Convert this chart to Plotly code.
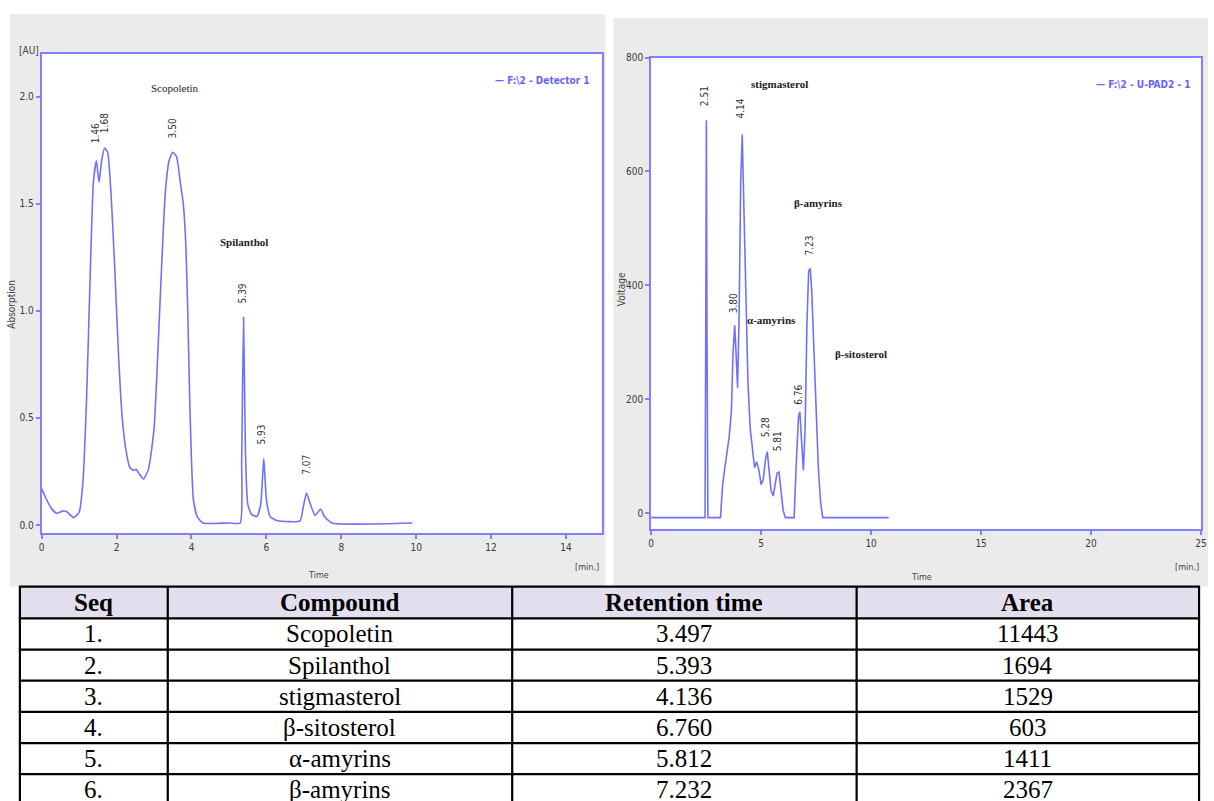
import plotly.graph_objects as go

W, H = 1214, 801

# ---------------- data ----------------
# Left chromatogram (Detector 1), time [min] vs absorbance [AU]
left_time = [0.0, 0.1, 0.25, 0.4, 0.55, 0.65, 0.85, 1.0, 1.1, 1.2, 1.3, 1.38, 1.46, 1.53, 1.6, 1.68,
             1.76, 1.85, 1.95, 2.05, 2.15, 2.25, 2.35, 2.45, 2.52, 2.6, 2.72, 2.85, 3.0, 3.1, 3.2,
             3.3, 3.4, 3.5, 3.6, 3.7, 3.78, 3.85, 3.9, 3.95, 4.0, 4.05, 4.15, 4.3, 5.0, 5.3, 5.34,
             5.39, 5.44, 5.5, 5.6, 5.75, 5.85, 5.93, 6.0, 6.1, 6.3, 6.9, 6.98, 7.07, 7.15, 7.3,
             7.45, 7.55, 7.75, 9.9]
left_au = [0.17, 0.13, 0.08, 0.055, 0.065, 0.065, 0.035, 0.06, 0.2, 0.6, 1.2, 1.6, 1.70, 1.60, 1.70, 1.76,
           1.74, 1.55, 1.2, 0.8, 0.5, 0.35, 0.27, 0.255, 0.26, 0.24, 0.215, 0.26, 0.45, 0.8, 1.2,
           1.55, 1.70, 1.74, 1.72, 1.60, 1.5, 1.3, 1.0, 0.6, 0.3, 0.12, 0.04, 0.01, 0.01, 0.01, 0.3,
           0.97, 0.35, 0.1, 0.05, 0.04, 0.1, 0.31, 0.12, 0.04, 0.02, 0.02, 0.08, 0.15, 0.11, 0.045,
           0.075, 0.04, 0.01, 0.01]

# Right chromatogram (U-PAD2), time [min] vs voltage [mV]
right_time = [0.0, 2.45, 2.48, 2.51, 2.54, 2.58, 3.15, 3.25, 3.35, 3.45, 3.55, 3.65, 3.72, 3.80, 3.87,
              3.93, 4.0, 4.07, 4.14, 4.2, 4.3, 4.4, 4.5, 4.6, 4.7, 4.8, 4.9, 5.0, 5.1, 5.2, 5.28,
              5.35, 5.45, 5.55, 5.65, 5.72, 5.81, 5.9, 6.0, 6.1, 6.5, 6.6, 6.7, 6.76, 6.83, 6.92,
              7.0, 7.08, 7.16, 7.23, 7.3, 7.4, 7.5, 7.6, 7.7, 7.8, 10.8]
right_mv = [-8, -8, 300, 690, 300, -8, -8, 50, 80, 110, 135, 180, 280, 330, 280,
            220, 350, 580, 665, 560, 380, 230, 150, 110, 80, 90, 75, 50, 60, 95, 108,
            80, 40, 30, 55, 70, 72, 40, 5, -8, -8, 90, 170, 178, 140, 75,
            150, 330, 425, 430, 390, 280, 170, 80, 20, -8, -8]

left_ticks_x = [0, 2, 4, 6, 8, 10, 12, 14]
left_ticks_y = [0.0, 0.5, 1.0, 1.5, 2.0]
left_ticktext_y = ["0.0", "0.5", "1.0", "1.5", "2.0"]
right_ticks_x = [0, 5, 10, 15, 20, 25]
right_ticks_y = [0, 200, 400, 600, 800]

# peak labels: (text, x, y)
left_peak_labels = [("1.46", 1.46, 1.83), ("1.68", 1.66, 1.875), ("3.50", 3.5, 1.85),
                    ("5.39", 5.37, 1.08), ("5.93", 5.87, 0.42), ("7.07", 7.05, 0.28)]
left_names = [("Scopoletin", 3.55, 2.04, False), ("Spilanthol", 5.4, 1.32, True)]
right_peak_labels = [("2.51", 2.42, 733), ("4.14", 4.05, 711), ("3.80", 3.75, 368),
                     ("7.23", 7.2, 469), ("6.76", 6.7, 207), ("5.28", 5.2, 150), ("5.81", 5.74, 127)]
right_names = [("stigmasterol", 5.83, 754), ("β-amyrins", 7.63, 545),
               ("α-amyrins", 5.47, 340), ("β-sitosterol", 9.53, 280)]

# table
seq = ["1.", "2.", "3.", "4.", "5.", "6."]
compounds = ["Scopoletin", "Spilanthol", "stigmasterol", "β-sitosterol", "α-amyrins", "β-amyrins"]
ret_time = ["3.497", "5.393", "4.136", "6.760", "5.812", "7.232"]
area = ["11443", "1694", "1529", "603", "1411", "2367"]
headers = ["Seq", "Compound", "Retention time", "Area"]

# ---------------- style / layout ----------------
LINE = "rgb(112,112,255)"
AXC = "rgb(128,128,255)"
NARROW = "Liberation Sans Narrow, DejaVu Sans Condensed, Liberation Sans, sans-serif"
TICKFONT = dict(family=NARROW, size=10, color="#3a3a3a")
SERIF = "Liberation Serif, Times New Roman, serif"

COL_EDGES = [17, 166, 513, 860, 1205]      # table column borders (px)
TABLE_TOP = 585
HEADER_H = 32
ROW_H = 31.4


def px(xp):
    return xp / W


def py(yp):
    return 1 - yp / H


fig = go.Figure()
fig.add_trace(go.Scatter(x=left_time, y=left_au, mode="lines", xaxis="x", yaxis="y",
                         line=dict(color=LINE, width=1.6, shape="spline", smoothing=0.5),
                         showlegend=False, hoverinfo="skip"))
fig.add_trace(go.Scatter(x=right_time, y=right_mv, mode="lines", xaxis="x2", yaxis="y2",
                         line=dict(color=LINE, width=1.6), showlegend=False, hoverinfo="skip"))

axis_common = dict(showline=True, mirror=True, linecolor=AXC, linewidth=2, showgrid=False,
                   zeroline=False, ticks="outside", ticklen=4, tickcolor=AXC, tickwidth=1.5,
                   tickfont=TICKFONT, fixedrange=True)

fig.update_layout(
    width=W, height=H, margin=dict(l=0, r=0, t=0, b=0),
    paper_bgcolor="white", plot_bgcolor="white",
    xaxis=dict(domain=[px(39), px(603)], range=[0, 14.95], anchor="y",
               tickvals=left_ticks_x, **axis_common),
    yaxis=dict(domain=[py(531), py(48)], range=[-0.037, 2.2], anchor="x",
               tickvals=left_ticks_y, ticktext=left_ticktext_y, **axis_common),
    xaxis2=dict(domain=[px(653), px(1207)], range=[0, 25], anchor="y2",
                tickvals=right_ticks_x, **axis_common),
    yaxis2=dict(domain=[py(527), py(52)], range=[-28, 800], anchor="x2",
                tickvals=right_ticks_y, **axis_common),
)

shapes = [
    dict(type="rect", xref="paper", yref="paper", x0=px(7), x1=px(607), y0=py(585), y1=py(8),
         fillcolor="#ebebeb", line=dict(width=0), layer="below"),
    dict(type="rect", xref="paper", yref="paper", x0=px(615), x1=px(1214), y0=py(585), y1=py(12),
         fillcolor="#ebebeb", line=dict(width=0), layer="below"),
    dict(type="rect", xref="paper", yref="paper", x0=px(39), x1=px(603), y0=py(531), y1=py(48),
         fillcolor="white", line=dict(width=0), layer="below"),
    dict(type="rect", xref="paper", yref="paper", x0=px(653), x1=px(1207), y0=py(527), y1=py(52),
         fillcolor="white", line=dict(width=0), layer="below"),
]

# ---- table drawn with shapes + annotations ----
n_rows = len(seq)
row_lines = [TABLE_TOP, TABLE_TOP + HEADER_H] + [TABLE_TOP + HEADER_H + ROW_H * (i + 1) for i in range(n_rows)]
shapes.append(dict(type="rect", xref="paper", yref="paper", x0=px(COL_EDGES[0]), x1=px(COL_EDGES[-1]),
                   y0=py(TABLE_TOP + HEADER_H), y1=py(TABLE_TOP), fillcolor="#e4dfee",
                   line=dict(width=0), layer="below"))
for yl in row_lines:
    shapes.append(dict(type="line", xref="paper", yref="paper", x0=px(COL_EDGES[0] - 1), x1=px(COL_EDGES[-1] + 1),
                       y0=py(yl), y1=py(yl), line=dict(color="black", width=2.2), layer="above"))
for xc in COL_EDGES:
    shapes.append(dict(type="line", xref="paper", yref="paper", x0=px(xc), x1=px(xc),
                       y0=py(TABLE_TOP), y1=py(row_lines[-1]), line=dict(color="black", width=2.2),
                       layer="above"))
fig.update_layout(shapes=shapes)

ann = []
col_centers = [(COL_EDGES[i] + COL_EDGES[i + 1]) / 2 for i in range(4)]
for c, h in enumerate(headers):
    ann.append(dict(text=f"<b>{h}</b>", x=px(col_centers[c]), y=py(TABLE_TOP + HEADER_H / 2),
                    xref="paper", yref="paper", showarrow=False, xanchor="center", yanchor="middle",
                    font=dict(family=SERIF, size=25, color="black")))
for r in range(n_rows):
    yc = TABLE_TOP + HEADER_H + ROW_H * (r + 0.5)
    for c, col in enumerate([seq, compounds, ret_time, area]):
        ann.append(dict(text=col[r], x=px(col_centers[c]), y=py(yc), xref="paper", yref="paper",
                        showarrow=False, xanchor="center", yanchor="middle",
                        font=dict(family=SERIF, size=25, color="black")))

for t, x, y in left_peak_labels:
    ann.append(dict(text=t, x=x, y=y, xref="x", yref="y", showarrow=False, textangle=-90,
                    font=dict(family=NARROW, size=10, color="#333333")))
for t, x, y, b in left_names:
    ann.append(dict(text=f"<b>{t}</b>" if b else t, x=x, y=y, xref="x", yref="y", showarrow=False,
                    font=dict(family=SERIF, size=11, color="#222222")))
for t, x, y in right_peak_labels:
    ann.append(dict(text=t, x=x, y=y, xref="x2", yref="y2", showarrow=False, textangle=-90,
                    font=dict(family=NARROW, size=10, color="#333333")))
for t, x, y in right_names:
    ann.append(dict(text=f"<b>{t}</b>", x=x, y=y, xref="x2", yref="y2", showarrow=False,
                    font=dict(family=SERIF, size=11, color="#222222")))

legfont = dict(family=NARROW, size=10, color="rgb(100,100,255)")
small = dict(family=NARROW, size=9, color="#444444")
C = dict(xref="paper", yref="paper", showarrow=False, xanchor="center", yanchor="middle")
ann += [
    dict(text="<b>— F:\\2 - Detector 1</b>", x=px(593), y=py(75), xref="paper", yref="paper",
         xanchor="right", yanchor="middle", showarrow=False, font=legfont),
    dict(text="<b>— F:\\2 - U-PAD2 - 1</b>", x=px(1199), y=py(79), xref="paper", yref="paper",
         xanchor="right", yanchor="middle", showarrow=False, font=legfont),
    dict(text="[AU]", x=px(26), y=py(45), font=dict(family=NARROW, size=10, color="#444444"), **C),
    dict(text="Absorption", x=px(9), y=py(300), textangle=-90,
         font=dict(family=NARROW, size=10, color="#444444"), **C),
    dict(text="Voltage", x=px(623), y=py(285), textangle=-90,
         font=dict(family=NARROW, size=10, color="#444444"), **C),
    dict(text="Time", x=px(318), y=py(573), font=small, **C),
    dict(text="Time", x=px(925), y=py(575), font=small, **C),
    dict(text="[min.]", x=px(588), y=py(565), font=small, **C),
    dict(text="[min.]", x=px(1193), y=py(565), font=small, **C),
]
fig.update_layout(annotations=ann)

fig.write_html("out.html", config={"displayModeBar": False},
               post_script="document.body.style.margin='0';document.body.style.overflow='hidden';")
